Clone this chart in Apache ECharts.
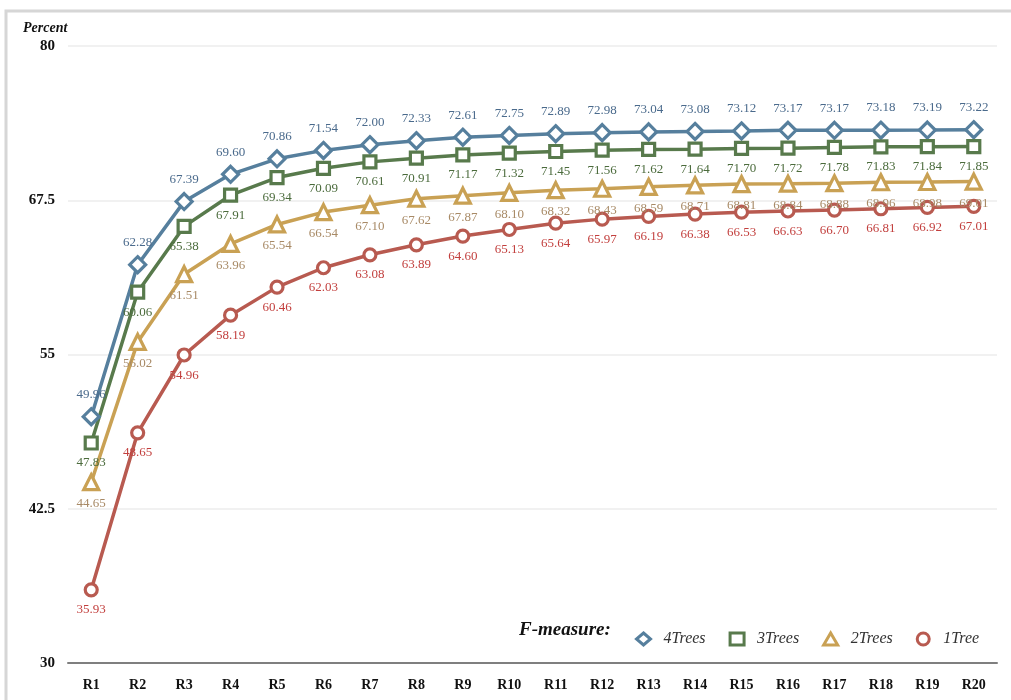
<!DOCTYPE html>
<html>
<head>
<meta charset="utf-8">
<script src="https://cdn.jsdelivr.net/npm/echarts@6/dist/echarts.min.js"></script>
<style>
  html, body { margin: 0; padding: 0; background: #fff; }
  #chart { width: 1011px; height: 700px; }
</style>
</head>
<body>
<div id="chart"></div>
<script>
// Rounds R1..R20
const categories = ['R1','R2','R3','R4','R5','R6','R7','R8','R9','R10',
  'R11','R12','R13','R14','R15','R16','R17','R18','R19','R20'];

// F-measure (%) per number of trees
const fourTrees = [49.96, 62.28, 67.39, 69.60, 70.86, 71.54, 72.00, 72.33, 72.61, 72.75,
  72.89, 72.98, 73.04, 73.08, 73.12, 73.17, 73.17, 73.18, 73.19, 73.22];
const threeTrees = [47.83, 60.06, 65.38, 67.91, 69.34, 70.09, 70.61, 70.91, 71.17, 71.32,
  71.45, 71.56, 71.62, 71.64, 71.70, 71.72, 71.78, 71.83, 71.84, 71.85];
const twoTrees = [44.65, 56.02, 61.51, 63.96, 65.54, 66.54, 67.10, 67.62, 67.87, 68.10,
  68.32, 68.43, 68.59, 68.71, 68.81, 68.84, 68.88, 68.96, 68.98, 69.01];
const oneTree = [35.93, 48.65, 54.96, 58.19, 60.46, 62.03, 63.08, 63.89, 64.60, 65.13,
  65.64, 65.97, 66.19, 66.38, 66.53, 66.63, 66.70, 66.81, 66.92, 67.01];

const yTicks = [30, 42.5, 55, 67.5, 80];

const serif = '"Liberation Serif", "Times New Roman", serif';

function makeSeries(name, data, symbol, size, lineColor, labelColor, labelPos) {
  return {
    name: name,
    type: 'line',
    data: data,
    symbol: symbol,
    symbolSize: size,
    showAllSymbol: true,
    z: 3,
    lineStyle: { color: lineColor, width: 3.5 },
    itemStyle: { color: '#fff', borderColor: lineColor, borderWidth: 3.2 },
    label: {
      show: true,
      position: labelPos,
      distance: 6,
      color: labelColor,
      fontFamily: serif,
      fontSize: 13,
      formatter: p => p.value.toFixed(2)
    },
    emphasis: { disabled: true }
  };
}

const chart = echarts.init(document.getElementById('chart'), null, { renderer: 'canvas' });

chart.setOption({
  backgroundColor: '#fff',
  animation: false,
  grid: { left: 68, right: 14, top: 46, bottom: 37, containLabel: false },
  xAxis: {
    type: 'category',
    data: categories,
    boundaryGap: true,
    axisLine: { show: true, lineStyle: { color: '#7f7f7f', width: 2 } },
    axisTick: { show: false },
    axisLabel: { color: '#111', fontFamily: serif, fontWeight: 'bold', fontSize: 14, margin: 15 }
  },
  yAxis: {
    type: 'value',
    min: 30,
    max: 80,
    interval: 12.5,
    axisLine: { show: false },
    axisTick: { show: false },
    splitLine: { lineStyle: { color: '#ececec', width: 1.5 } },
    axisLabel: {
      color: '#111', fontFamily: serif, fontWeight: 'bold', fontSize: 15, margin: 13,
      formatter: v => (yTicks.indexOf(v) >= 0 ? String(v) : '')
    }
  },
  legend: {
    left: 630,
    top: 626,
    itemWidth: 14,
    itemHeight: 12,
    itemGap: 23,
    textStyle: { color: '#333', fontFamily: serif, fontStyle: 'italic', fontSize: 16, padding: [0, 0, 0, 8] },
    data: [
      { name: '4Trees', icon: 'diamond', itemStyle: { color: '#fff', borderColor: '#567f9d', borderWidth: 3 } },
      { name: '3Trees', icon: 'rect', itemStyle: { color: '#fff', borderColor: '#587a4c', borderWidth: 3 } },
      { name: '2Trees', icon: 'triangle', itemStyle: { color: '#fff', borderColor: '#c9a154', borderWidth: 3 } },
      { name: '1Tree', icon: 'circle', itemStyle: { color: '#fff', borderColor: '#b85a50', borderWidth: 3 } }
    ]
  },
  graphic: [
    {
      type: 'rect',
      shape: { x: 6, y: 11, width: 1100, height: 800 },
      style: { fill: 'none', stroke: '#d6d6d6', lineWidth: 3 },
      silent: true, z: -10
    },
    {
      type: 'text',
      left: 23, top: 21,
      style: { text: 'Percent', fill: '#111', font: 'italic bold 14px ' + serif }
    },
    {
      type: 'text',
      left: 519, top: 621,
      style: { text: 'F-measure:', fill: '#111', font: 'italic bold 19px ' + serif }
    }
  ],
  series: [
    makeSeries('4Trees', fourTrees, 'diamond', 16, '#567f9d', '#4a6a8c', 'top'),
    makeSeries('3Trees', threeTrees, 'rect', 12, '#587a4c', '#4b6b3c', 'bottom'),
    makeSeries('2Trees', twoTrees, 'triangle', 15, '#c9a154', '#a88a66', 'bottom'),
    makeSeries('1Tree', oneTree, 'circle', 12, '#b85a50', '#c23f3d', 'bottom')
  ]
});
</script>
</body>
</html>
